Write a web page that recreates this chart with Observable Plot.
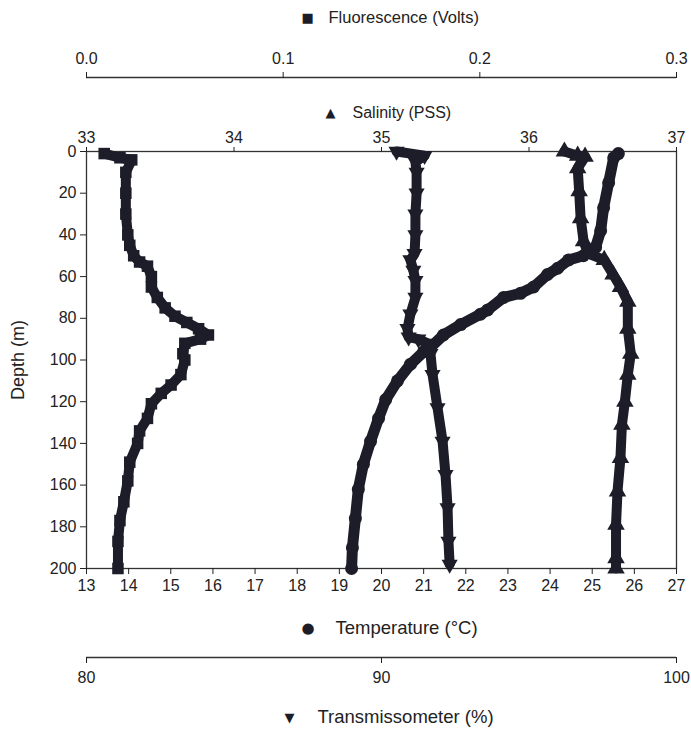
<!DOCTYPE html>
<html>
<head>
<meta charset="utf-8">
<script src="https://cdn.jsdelivr.net/npm/d3@7"></script>
<script src="https://cdn.jsdelivr.net/npm/@observablehq/plot@0.6"></script>
<style>
  html, body { margin: 0; padding: 0; background: #fff; }
  #chart { position: relative; width: 691px; height: 730px; }
  #chart svg { position: absolute; left: 0; top: 0; }
</style>
</head>
<body>
<div id="chart"></div>
<script>
// Fluorescence (Volts)
const depthFluor = [1, 3, 4, 10, 20, 30, 40, 45, 50, 53, 55, 60, 65, 70, 75, 79, 82, 85, 88, 90, 92, 97, 100, 107, 112, 116, 121, 128, 134, 140, 149, 158, 168, 177, 187, 200];
const fluor = [0.009, 0.017, 0.023, 0.020, 0.020, 0.020, 0.021, 0.022, 0.024, 0.027, 0.031, 0.033, 0.033, 0.036, 0.040, 0.045, 0.051, 0.057, 0.062, 0.058, 0.050, 0.049, 0.050, 0.048, 0.043, 0.038, 0.033, 0.031, 0.027, 0.026, 0.022, 0.021, 0.019, 0.017, 0.016, 0.016];

// Transmissometer (%)
const depthTrans = [0, 2, 5, 10, 20, 30, 40, 49, 52, 57, 62, 70, 78, 85, 89, 90, 92, 97, 107, 123, 139, 155, 171, 187, 198];
const trans = [90.51, 91.46, 91.15, 91.19, 91.19, 91.15, 91.15, 91.12, 90.98, 91.08, 91.15, 91.15, 90.98, 90.88, 90.92, 91.25, 91.56, 91.66, 91.73, 91.90, 92.07, 92.17, 92.24, 92.27, 92.31];

// Temperature (°C)
const depthTemp = [1, 3, 15, 27, 38, 46, 50, 52, 56, 59, 65, 68, 70, 76, 78, 83, 88, 94, 96, 102, 110, 119, 128, 139, 150, 162, 176, 190, 200];
const temp = [25.62, 25.51, 25.39, 25.27, 25.20, 25.08, 24.79, 24.44, 24.18, 23.94, 23.61, 23.30, 22.90, 22.52, 22.35, 21.88, 21.47, 21.16, 21.00, 20.69, 20.38, 20.10, 19.93, 19.74, 19.57, 19.45, 19.38, 19.31, 19.29];

// Salinity (PSS)
const depthSal = [0, 2, 2.5, 8, 19, 32, 43, 49, 52, 59, 65, 72, 85, 97, 107, 120, 131, 147, 163, 179, 195, 200];
const sal = [36.24, 36.33, 36.38, 36.33, 36.34, 36.35, 36.37, 36.40, 36.51, 36.57, 36.62, 36.67, 36.67, 36.69, 36.67, 36.65, 36.63, 36.62, 36.60, 36.59, 36.59, 36.59];

// Tick labels
const depthTicks = [0, 20, 40, 60, 80, 100, 120, 140, 160, 180, 200];
const tempTicks = [13, 14, 15, 16, 17, 18, 19, 20, 21, 22, 23, 24, 25, 26, 27];
const salTicks = [33, 34, 35, 36, 37];
const fluorTicks = [0.0, 0.1, 0.2, 0.3];
const transTicks = [80, 90, 100];

// ---- Layout ----
const ink = "#1d1d29";
const axisColor = "#333";
const W = 691, H = 730;
const M = {top: 151, right: 15, bottom: 162, left: 86};
const frameBottom = H - M.bottom; // 568

const rows = (ds, vs) => ds.map((d, i) => ({d, v: vs[i]}));
const fluorData = rows(depthFluor, fluor);
const transData = rows(depthTrans, trans);
const tempData = rows(depthTemp, temp);
const salData = rows(depthSal, sal);

function plot(xDomain, marks) {
  return Plot.plot({
    width: W, height: H,
    marginTop: M.top, marginRight: M.right, marginBottom: M.bottom, marginLeft: M.left,
    style: {background: "transparent", fontFamily: "'Liberation Sans', Arial, sans-serif", fontSize: "16px", color: "#222", overflow: "visible"},
    x: {domain: xDomain, axis: null},
    y: {domain: [0, 200], reverse: true, axis: null},
    marks
  });
}

const titleFont = "'Liberation Sans', Arial, sans-serif";
const symFont = "'DejaVu Sans', sans-serif";

// Base: temperature, depth axis, frame
const pTemp = plot([13, 27], [
  Plot.frame({stroke: axisColor, strokeWidth: 1.3}),
  Plot.axisY(depthTicks, {anchor: "left", tickSize: 6, tickPadding: 4, label: null, fontSize: 16}),
  Plot.axisX(tempTicks, {anchor: "bottom", tickSize: 6, tickPadding: 5, label: null, fontSize: 16}),
  Plot.text(["Depth (m)"], {frameAnchor: "left", rotate: -90, dx: -68, textAnchor: "middle", lineAnchor: "middle", fontSize: 18, fontFamily: titleFont}),
  Plot.text(["●"], {frameAnchor: "bottom-left", dx: 301 - M.left, dy: 628 - frameBottom, lineAnchor: "middle", fontSize: 15, fontFamily: symFont, fill: ink}),
  Plot.text(["Temperature (°C)"], {frameAnchor: "bottom-left", dx: 335 - M.left, dy: 628 - frameBottom, textAnchor: "start", lineAnchor: "middle", fontSize: 18.5, fontFamily: titleFont}),
  Plot.line(tempData, {x: "v", y: "d", stroke: ink, strokeWidth: 11, strokeLinejoin: "round", strokeLinecap: "round"}),
  Plot.dot(tempData, {x: "v", y: "d", r: 6.5, fill: ink, symbol: "circle"})
]);

// Fluorescence (top axis, offset upward)
const pFluor = plot([0, 0.3], [
  Plot.ruleY([0], {dy: 77 - M.top, stroke: axisColor, strokeWidth: 1.3}),
  Plot.axisX(fluorTicks, {anchor: "top", dy: 77 - M.top, tickSize: 6, tickPadding: 8, tickFormat: d3.format(".1f"), label: null, fontSize: 16}),
  Plot.text(["■"], {frameAnchor: "top-left", dx: 301 - M.left, dy: 17 - M.top, lineAnchor: "middle", fontSize: 13, fontFamily: symFont, fill: ink}),
  Plot.text(["Fluorescence (Volts)"], {frameAnchor: "top-left", dx: 328 - M.left, dy: 17 - M.top, textAnchor: "start", lineAnchor: "middle", fontSize: 16.5, fontFamily: titleFont}),
  Plot.line(fluorData, {x: "v", y: "d", stroke: ink, strokeWidth: 10, strokeLinejoin: "round"}),
  Plot.dot(fluorData, {x: "v", y: "d", r: 6.5, fill: ink, symbol: "square"})
]);

// Salinity (top axis on the frame)
const pSal = plot([33, 37], [
  Plot.axisX(salTicks, {anchor: "top", tickSize: 5, tickPadding: 4, tickFormat: d3.format("d"), label: null, fontSize: 16}),
  Plot.text(["▲"], {frameAnchor: "top-left", dx: 325 - M.left, dy: 112 - M.top, lineAnchor: "middle", fontSize: 13, fontFamily: symFont, fill: ink}),
  Plot.text(["Salinity (PSS)"], {frameAnchor: "top-left", dx: 352 - M.left, dy: 112 - M.top, textAnchor: "start", lineAnchor: "middle", fontSize: 16, fontFamily: titleFont}),
  Plot.line(salData, {x: "v", y: "d", stroke: ink, strokeWidth: 10, strokeLinejoin: "round"}),
  Plot.dot(salData, {x: "v", y: "d", r: 6.5, fill: ink, symbol: "triangle"})
]);

// Transmissometer (bottom axis, offset downward)
const pTrans = plot([80, 100], [
  Plot.ruleY([200], {dy: 657 - frameBottom, stroke: axisColor, strokeWidth: 1.3}),
  Plot.axisX(transTicks, {anchor: "bottom", dy: 657 - frameBottom, tickSize: 6, tickPadding: 8, label: null, fontSize: 16}),
  Plot.text(["▼"], {frameAnchor: "bottom-left", dx: 284 - M.left, dy: 717 - frameBottom, lineAnchor: "middle", fontSize: 13, fontFamily: symFont, fill: ink}),
  Plot.text(["Transmissometer (%)"], {frameAnchor: "bottom-left", dx: 317 - M.left, dy: 717 - frameBottom, textAnchor: "start", lineAnchor: "middle", fontSize: 18.5, fontFamily: titleFont}),
  Plot.line(transData, {x: "v", y: "d", stroke: ink, strokeWidth: 10, strokeLinejoin: "round"}),
  Plot.dot(transData, {x: "v", y: "d", r: 6, fill: ink, symbol: "triangle", rotate: 180})
]);

const chart = document.getElementById("chart");
[pTemp, pFluor, pSal, pTrans].forEach(p => chart.appendChild(p));
</script>
</body>
</html>
